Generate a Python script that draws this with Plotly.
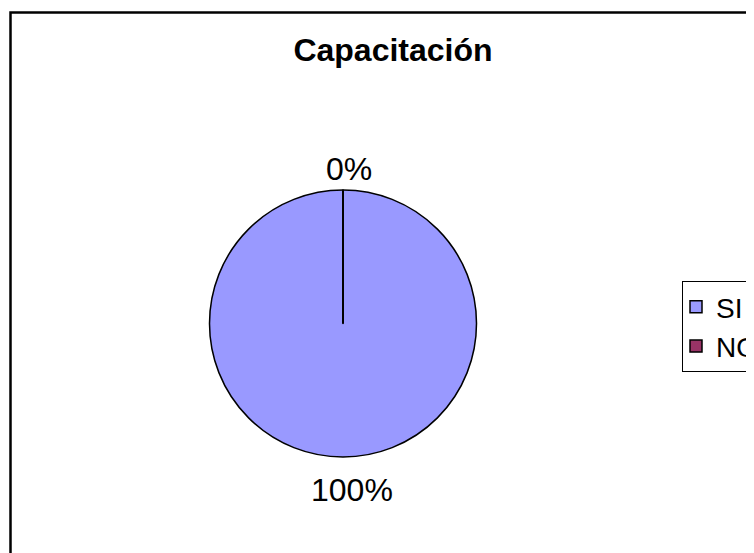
import plotly.graph_objects as go

W, H = 754, 553

title_text = "Capacitación"
categories = ["SI", "NO"]
values = [100, 0]
colors = ["#9999FF", "#993366"]

# pie domain (paper coordinates)
dom_x = [201.5 / W, 468.5 / W]
dom_y = [104 / H, 371 / H]

fig = go.Figure()
fig.add_trace(go.Pie(
    labels=categories,
    values=values,
    marker=dict(colors=colors, line=dict(color="black", width=1.5)),
    textinfo="none",
    sort=False,
    direction="clockwise",
    rotation=0,
    domain=dict(x=dom_x, y=dom_y),
    showlegend=True,
    hoverinfo="label+percent",
))

cx = (dom_x[0] + dom_x[1]) / 2
cy = (dom_y[0] + dom_y[1]) / 2
r_px = min((dom_x[1] - dom_x[0]) * W, (dom_y[1] - dom_y[0]) * H) / 2

# radial boundary line between the slices (start angle at 12 o'clock)
fig.add_shape(type="line", xref="paper", yref="paper",
              x0=cx, x1=cx, y0=cy, y1=cy + r_px / H,
              line=dict(color="black", width=2))

# percentage labels (0% above the pie, 100% below it)
total = sum(values)
pcts = [f"{v / total * 100:.0f}%" for v in values]
label_font = dict(family="Arial, Liberation Sans", size=32, color="black")
fig.add_annotation(xref="paper", yref="paper", x=cx + 6 / W, y=cy + (r_px + 21) / H,
                   text=pcts[1], showarrow=False, font=label_font,
                   xanchor="center", yanchor="middle")
fig.add_annotation(xref="paper", yref="paper", x=cx + 9 / W, y=cy - (r_px + 33) / H,
                   text=pcts[0], showarrow=False, font=label_font,
                   xanchor="center", yanchor="middle")

# chart border
fig.add_shape(type="rect", xref="paper", yref="paper",
              x0=2.5 / W, x1=1.2, y0=-0.2, y1=1 - 4.5 / H,
              line=dict(color="black", width=2.5), layer="below")

fig.update_layout(
    width=W, height=H,
    margin=dict(l=0, r=0, t=0, b=0, autoexpand=False),
    paper_bgcolor="white",
    plot_bgcolor="white",
    title=dict(text="<b>" + title_text + "</b>",
               x=385 / W, xanchor="center",
               y=1 - 42 / H, yanchor="middle",
               font=dict(family="Arial, Liberation Sans", size=32, color="black")),
    legend=dict(x=674 / W, y=1 - 273 / H, xanchor="left", yanchor="top",
                bgcolor="white", bordercolor="black", borderwidth=1,
                font=dict(family="Arial, Liberation Sans", size=28, color="black"),
                itemwidth=30, indentation=-7),
)

fig.write_html("out.html")
